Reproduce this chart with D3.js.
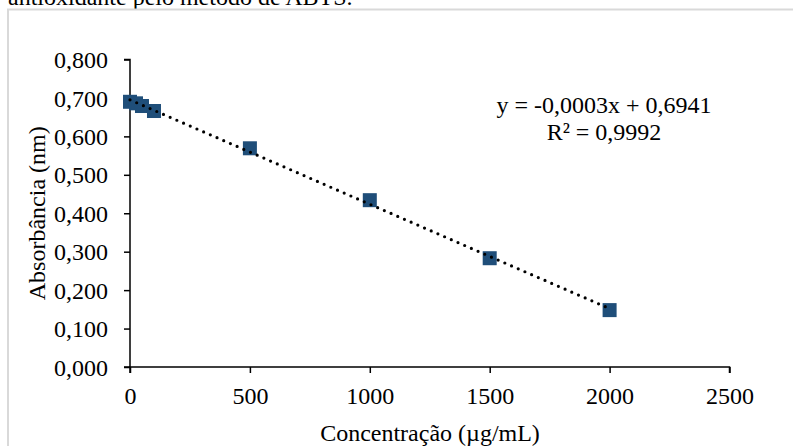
<!DOCTYPE html>
<html>
<head>
<meta charset="utf-8">
<script src="https://cdn.jsdelivr.net/npm/d3@7"></script>
<style>
  html, body { margin: 0; padding: 0; background: #fff; }
  svg { display: block; }
  text { font-family: "Liberation Serif", "Times New Roman", serif; fill: #000; }
</style>
</head>
<body>
<svg id="chart" width="793" height="446"></svg>
<script>
// ---- data ----
const concentrations = [0, 25, 50, 100, 500, 1000, 1500, 2000];
const absorbances   = [0.690, 0.686, 0.679, 0.666, 0.569, 0.434, 0.283, 0.148];
const xTicks = [0, 500, 1000, 1500, 2000, 2500];
const yTicks = [0, 0.1, 0.2, 0.3, 0.4, 0.5, 0.6, 0.7, 0.8];
const equationLines = ["y = -0,0003x + 0,6941", "R² = 0,9992"];
const captionText = "antioxidante pelo método de ABTS.";
const xTitle = "Concentração (µg/mL)";
const yTitle = "Absorbância (nm)";

const svg = d3.select("#chart");

const x = d3.scaleLinear().domain([0, 2500]).range([130, 729.5]);
const y = d3.scaleLinear().domain([0, 0.8]).range([367, 59.5]);

const loc = d3.formatLocale({decimal: ",", thousands: ".", grouping: [3], currency: ["", ""]});
const fmtY = loc.format(".3f");

// caption (partially cut off at top, as in the reference)
svg.append("text").attr("x", 8).attr("y", 5)
  .style("font-size", "24px").text(captionText);

// border box
svg.append("rect").attr("x", 8).attr("y", 9.5).attr("width", 820).attr("height", 460)
  .attr("fill", "none").attr("stroke", "#d9d9d9").attr("stroke-width", 2);

// axes
const yAxis = d3.axisLeft(y).tickValues(yTicks).tickSize(6).tickPadding(16).tickFormat(fmtY);
const xAxis = d3.axisBottom(x).tickValues(xTicks).tickSize(6).tickPadding(14).tickFormat(d3.format("d"));

const gy = svg.append("g").attr("transform", `translate(${x(0)},0)`).call(yAxis);
const gx = svg.append("g").attr("transform", `translate(0,${y(0)})`).call(xAxis);
[gx, gy].forEach(g => {
  g.select(".domain").attr("stroke", "#000").attr("stroke-width", 1.5);
  g.selectAll(".tick line").attr("stroke", "#000").attr("stroke-width", 1.5);
  g.selectAll(".tick text").attr("font-family", null).style("font-size", "24px").attr("fill", "#000");
});
gy.selectAll(".tick text").attr("dy", "0.34em");
gy.select(".domain").attr("d", `M-6,${y(0.8)}H0V${y(0)}H-6`);
gx.select(".domain").attr("d", `M${x(0)},6V0H${x(2500)}V6`);

// linear regression trendline from data
const n = concentrations.length;
const mx = d3.mean(concentrations), my = d3.mean(absorbances);
let sxy = 0, sxx = 0;
for (let i = 0; i < n; i++) {
  sxy += (concentrations[i] - mx) * (absorbances[i] - my);
  sxx += (concentrations[i] - mx) ** 2;
}
const slope = sxy / sxx, intercept = my - slope * mx;
const xMin = d3.min(concentrations), xMax = d3.max(concentrations);

// markers
svg.append("g").selectAll("rect").data(concentrations).join("rect")
  .attr("x", d => x(d) - 7).attr("y", (d, i) => y(absorbances[i]) - 7)
  .attr("width", 14).attr("height", 14).attr("fill", "#1F4E79");

// dotted trendline
svg.append("line")
  .attr("x1", x(xMin)).attr("y1", y(intercept + slope * xMin))
  .attr("x2", x(xMax)).attr("y2", y(intercept + slope * xMax))
  .attr("stroke", "#000").attr("stroke-width", 3.2)
  .attr("stroke-linecap", "round").attr("stroke-dasharray", "0 7.3");

// equation
svg.append("g").selectAll("text").data(equationLines).join("text")
  .attr("x", 604).attr("y", (d, i) => 113 + i * 27)
  .attr("text-anchor", "middle").style("font-size", "24px").text(d => d);

// axis titles
svg.append("text").attr("x", 430).attr("y", 441).attr("text-anchor", "middle")
  .style("font-size", "24px").text(xTitle);
svg.append("text").attr("transform", `translate(45,${(y(0)+y(0.8))/2}) rotate(-90)`)
  .attr("text-anchor", "middle").style("font-size", "24px").text(yTitle);
</script>
</body>
</html>
